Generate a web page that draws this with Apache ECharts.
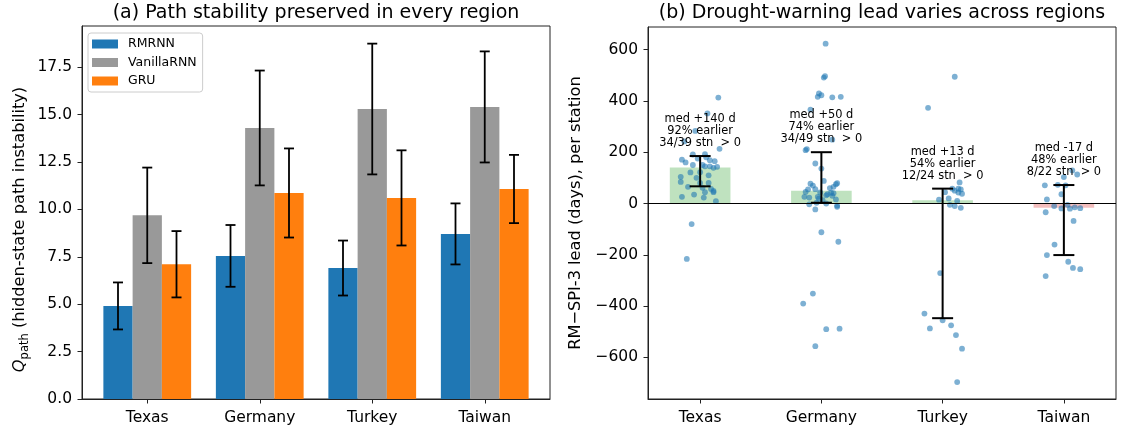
<!DOCTYPE html>
<html><head><meta charset="utf-8">
<script src="https://cdn.jsdelivr.net/npm/echarts@6/dist/echarts.min.js"></script>
<style>html,body{margin:0;padding:0;background:#fff}#c{width:1121px;height:429px}</style>
</head><body><div id="c"></div>
<script>
// ---------- data: panel (a) ----------
const regions = ['Texas', 'Germany', 'Turkey', 'Taiwan'];
const models = ['RMRNN', 'VanillaRNN', 'GRU'];
const rmrnnMean = [4.91, 7.55, 6.91, 8.71];
const rmrnnErr = [1.24, 1.63, 1.45, 1.61];
const vanillaMean = [9.69, 14.30, 15.30, 15.41];
const vanillaErr = [2.52, 3.03, 3.45, 2.93];
const gruMean = [7.11, 10.87, 10.61, 11.08];
const gruErr = [1.75, 2.35, 2.51, 1.80];
const leftTicks = [0, 2.5, 5, 7.5, 10, 12.5, 15, 17.5];

// ---------- data: panel (b) ----------
const leadMedian = [140, 50, 13, -17];
const leadQ1 = [67, 3, -447, -201];
const leadQ3 = [185, 200, 58, 72];
const annMedian = ['med +140 d', 'med +50 d', 'med +13 d', 'med -17 d'];
const annEarlier = ['92% earlier', '74% earlier', '54% earlier', '48% earlier'];
const annCount = ['34/39 stn  > 0', '34/49 stn  > 0', '12/24 stn  > 0', '8/22 stn  > 0'];
const rightTicks = [-600, -400, -200, 0, 200, 400, 600];
// per-station points: [horizontal jitter, lead days]
const texasLead = [[0.15,413],[0.06,351],[-0.04,283],[-0.13,242],[0.16,213],[-0.15,171],[-0.12,160],[-0.06,191],[0.04,192],[-0.02,175],[0.08,169],[0.05,180],[0.04,145],[0.08,145],[0.14,143],[0.11,139],[-0.06,150],[0.02,150],[-0.16,104],[-0.16,84],[-0.08,121],[0.0,80],[0.07,80],[0.02,61],[0.11,49],[0.11,44],[0.04,44],[-0.15,26],[0.03,23],[0.13,9],[-0.07,-80],[-0.11,-216],[0.0,122],[-0.03,100],[0.07,110],[0.09,57],[-0.05,35],[0.12,165],[-0.1,65]];
const germanyLead = [[0.035,623],[0.03,496],[0.02,491],[-0.02,429],[0.0,422],[-0.03,416],[0.09,414],[0.16,416],[-0.09,366],[0.09,249],[-0.13,208],[-0.12,212],[-0.05,156],[0.0,136],[-0.09,77],[0.12,75],[0.13,79],[0.1,40],[-0.13,45],[-0.14,26],[-0.10,23],[-0.05,56],[-0.03,26],[-0.02,19],[0.04,32],[0.05,36],[0.08,42],[-0.01,43],[-0.1,-3],[-0.05,-23],[-0.04,3],[0.01,13],[0.13,-8],[0.13,-13],[0.04,0],[0.0,-112],[0.14,-149],[-0.07,-351],[-0.15,-390],[0.04,-490],[0.15,-488],[-0.05,-556],[0.12,16],[0.07,60],[-0.07,70],[0.02,88],[0.1,65],[-0.11,55],[0.09,30]];
const turkeyLead = [[0.1,494],[-0.12,373],[0.14,82],[0.08,58],[0.13,58],[0.15,55],[0.1,50],[0.02,44],[0.13,43],[0.16,38],[0.05,20],[-0.03,15],[0.12,10],[0.06,-5],[0.1,-10],[0.15,-17],[-0.02,-271],[-0.15,-429],[0.0,-455],[0.07,-475],[-0.105,-487],[0.11,-513],[0.16,-566],[0.12,-696]];
const taiwanLead = [[0.07,129],[0.11,113],[0.0,103],[-0.05,73],[-0.157,71],[0.014,71],[-0.02,36],[-0.14,16],[0.03,-5],[-0.08,-10],[0.09,-15],[0.135,-18],[-0.02,-19],[0.05,-20],[-0.15,-34],[0.08,-68],[-0.077,-160],[-0.14,-201],[0.036,-227],[0.075,-251],[0.135,-256],[-0.15,-283]];

// ---------- styling ----------
const FONT = 'DejaVu Sans';
const TICK_FS = 15.5;
const LABEL_FS = 16.2;
const BAR_W = 0.26;          // bar width in category units (panel a)
const MED_W = 0.5;           // median bar width (panel b)
const colors = ['#1f77b4', '#999999', '#ff7f0e'];
const leftMeans = [rmrnnMean, vanillaMean, gruMean];
const leftErrs = [rmrnnErr, vanillaErr, gruErr];
const leadAll = [texasLead, germanyLead, turkeyLead, taiwanLead];

function barSeries(k) {
  const offset = (k - 1) * BAR_W;
  return {
    name: models[k], type: 'custom', xAxisIndex: 0, yAxisIndex: 0,
    itemStyle: { color: colors[k] },
    data: regions.map((r, i) => [i, leftMeans[k][i], leftErrs[k][i]]),
    renderItem: function (params, api) {
      const i = api.value(0), v = api.value(1), e = api.value(2);
      const x = i + offset;
      const a = api.coord([x - BAR_W / 2, 0]);
      const b = api.coord([x + BAR_W / 2, v]);
      const t = api.coord([x, v + e]);
      const d = api.coord([x, v - e]);
      const cw = 5;
      return { type: 'group', children: [
        { type: 'rect', shape: { x: a[0], y: b[1], width: b[0] - a[0], height: a[1] - b[1] }, style: { fill: colors[k] } },
        { type: 'line', shape: { x1: t[0], y1: t[1], x2: d[0], y2: d[1] }, style: { stroke: '#000', lineWidth: 1.8 } },
        { type: 'line', shape: { x1: t[0] - cw, y1: t[1], x2: t[0] + cw, y2: t[1] }, style: { stroke: '#000', lineWidth: 1.8 } },
        { type: 'line', shape: { x1: d[0] - cw, y1: d[1], x2: d[0] + cw, y2: d[1] }, style: { stroke: '#000', lineWidth: 1.8 } }
      ]};
    }
  };
}

const scatterData = [];
leadAll.forEach((arr, i) => arr.forEach(p => scatterData.push([i + p[0], p[1]])));

function xAxisDef(idx, min, max) {
  return { type: 'value', gridIndex: idx, min: min, max: max, splitLine: { show: false },
    axisLine: { show: true, onZero: false, lineStyle: { color: '#222' } },
    axisTick: { show: true, length: 4.5, customValues: [0, 1, 2, 3], lineStyle: { color: '#222' } },
    axisLabel: { customValues: [0, 1, 2, 3], formatter: v => regions[Math.round(v)], fontSize: TICK_FS, color: '#000', margin: 11, fontFamily: FONT } };
}

const chart = echarts.init(document.getElementById('c'), null, { renderer: 'canvas' });
chart.setOption({
  animation: false,
  textStyle: { fontFamily: FONT },
  graphic: [
    { type: 'text', x: 316, y: 13, style: { text: '(a) Path stability preserved in every region', font: '19px "DejaVu Sans"', fill: '#000', align: 'center', verticalAlign: 'middle' } },
    { type: 'text', x: 882, y: 13, style: { text: '(b) Drought-warning lead varies across regions', font: '19px "DejaVu Sans"', fill: '#000', align: 'center', verticalAlign: 'middle' } }
  ],
  legend: {
    data: models, left: 88, top: 33, orient: 'vertical', icon: 'rect',
    itemWidth: 26, itemHeight: 9, itemGap: 4.5,
    padding: [4, 6, 4, 4],
    backgroundColor: '#fff', borderColor: '#cccccc', borderWidth: 1, borderRadius: 3,
    textStyle: { fontFamily: FONT, fontSize: 12.5, color: '#000', lineHeight: 14, padding: [0, 0, 0, 5] }
  },
  grid: [
    { left: 82, top: 26, width: 468, height: 373, show: true, borderColor: '#222', borderWidth: 1, backgroundColor: 'transparent' },
    { left: 648, top: 27, width: 468, height: 372, show: true, borderColor: '#222', borderWidth: 1, backgroundColor: 'transparent' }
  ],
  xAxis: [ xAxisDef(0, -0.58, 3.58), xAxisDef(1, -0.43, 3.43) ],
  yAxis: [
    { type: 'value', gridIndex: 0, min: 0, max: 19.68, splitLine: { show: false },
      axisLine: { show: true, onZero: false, lineStyle: { color: '#222' } },
      axisTick: { show: true, length: 4.5, customValues: leftTicks, lineStyle: { color: '#222' } },
      axisLabel: { customValues: leftTicks, formatter: v => v.toFixed(1), fontSize: TICK_FS, color: '#000', margin: 10, fontFamily: FONT },
      name: '{q|Q}{s|path} (hidden-state path instability)', nameLocation: 'middle', nameGap: 62,
      nameTextStyle: { fontSize: LABEL_FS, color: '#000', fontFamily: FONT, lineHeight: 22, verticalAlign: 'middle', padding: [0, 34, 0, 0],
        rich: { q: { fontStyle: 'italic', fontSize: LABEL_FS, lineHeight: 22, verticalAlign: 'middle', fontFamily: FONT },
                s: { fontSize: 11.5, lineHeight: 11, verticalAlign: 'bottom', fontFamily: FONT } } } },
    { type: 'value', gridIndex: 1, min: -762, max: 688, splitLine: { show: false },
      axisLine: { show: true, onZero: false, lineStyle: { color: '#222' } },
      axisTick: { show: true, length: 4.5, customValues: rightTicks, lineStyle: { color: '#222' } },
      axisLabel: { customValues: rightTicks, formatter: v => (v < 0 ? '\u2212' + Math.abs(v) : String(v)), fontSize: TICK_FS, color: '#000', margin: 10, fontFamily: FONT },
      name: 'RM\u2212SPI-3 lead (days), per station', nameLocation: 'middle', nameGap: 64,
      nameTextStyle: { fontSize: LABEL_FS, color: '#000', fontFamily: FONT } }
  ],
  series: [
    barSeries(0), barSeries(1), barSeries(2),
    { type: 'custom', xAxisIndex: 1, yAxisIndex: 1, z: 1,
      data: leadMedian.map((m, i) => [i, m]),
      renderItem: function (params, api) {
        const i = api.value(0), m = api.value(1);
        const a = api.coord([i - MED_W / 2, 0]);
        const b = api.coord([i + MED_W / 2, m]);
        return { type: 'rect', shape: { x: a[0], y: Math.min(a[1], b[1]), width: b[0] - a[0], height: Math.abs(a[1] - b[1]) },
          style: { fill: m >= 0 ? 'rgba(44,160,44,0.3)' : 'rgba(214,39,40,0.3)' } };
      },
      markLine: { silent: true, symbol: ['none', 'none'], label: { show: false },
        lineStyle: { color: '#000', width: 1, type: 'solid' }, data: [{ yAxis: 0 }] } },
    { type: 'scatter', xAxisIndex: 1, yAxisIndex: 1, z: 3, symbolSize: 5.8,
      itemStyle: { color: '#1f77b4', opacity: 0.58 }, data: scatterData },
    { type: 'custom', xAxisIndex: 1, yAxisIndex: 1, z: 4,
      data: leadQ1.map((q, i) => [i, q, leadQ3[i]]),
      renderItem: function (params, api) {
        const i = api.value(0);
        const lo = api.coord([i, api.value(1)]);
        const hi = api.coord([i, api.value(2)]);
        const cw = 10.5;
        const st = { stroke: '#000', lineWidth: 2 };
        return { type: 'group', children: [
          { type: 'line', shape: { x1: lo[0], y1: lo[1], x2: hi[0], y2: hi[1] }, style: st },
          { type: 'line', shape: { x1: lo[0] - cw, y1: lo[1], x2: lo[0] + cw, y2: lo[1] }, style: st },
          { type: 'line', shape: { x1: hi[0] - cw, y1: hi[1], x2: hi[0] + cw, y2: hi[1] }, style: st }
        ]};
      } },
    { type: 'custom', xAxisIndex: 1, yAxisIndex: 1, z: 5,
      data: leadQ3.map((q, i) => [i, q]),
      renderItem: function (params, api) {
        const i = api.value(0);
        const p = api.coord([i, api.value(1)]);
        return { type: 'text', x: p[0], y: p[1] - 7,
          style: { text: annMedian[i] + '\n' + annEarlier[i] + '\n' + annCount[i], font: '11.4px "DejaVu Sans"',
            fill: '#000', align: 'center', verticalAlign: 'bottom', lineHeight: 12 } };
      } }
  ]
});
</script></body></html>
